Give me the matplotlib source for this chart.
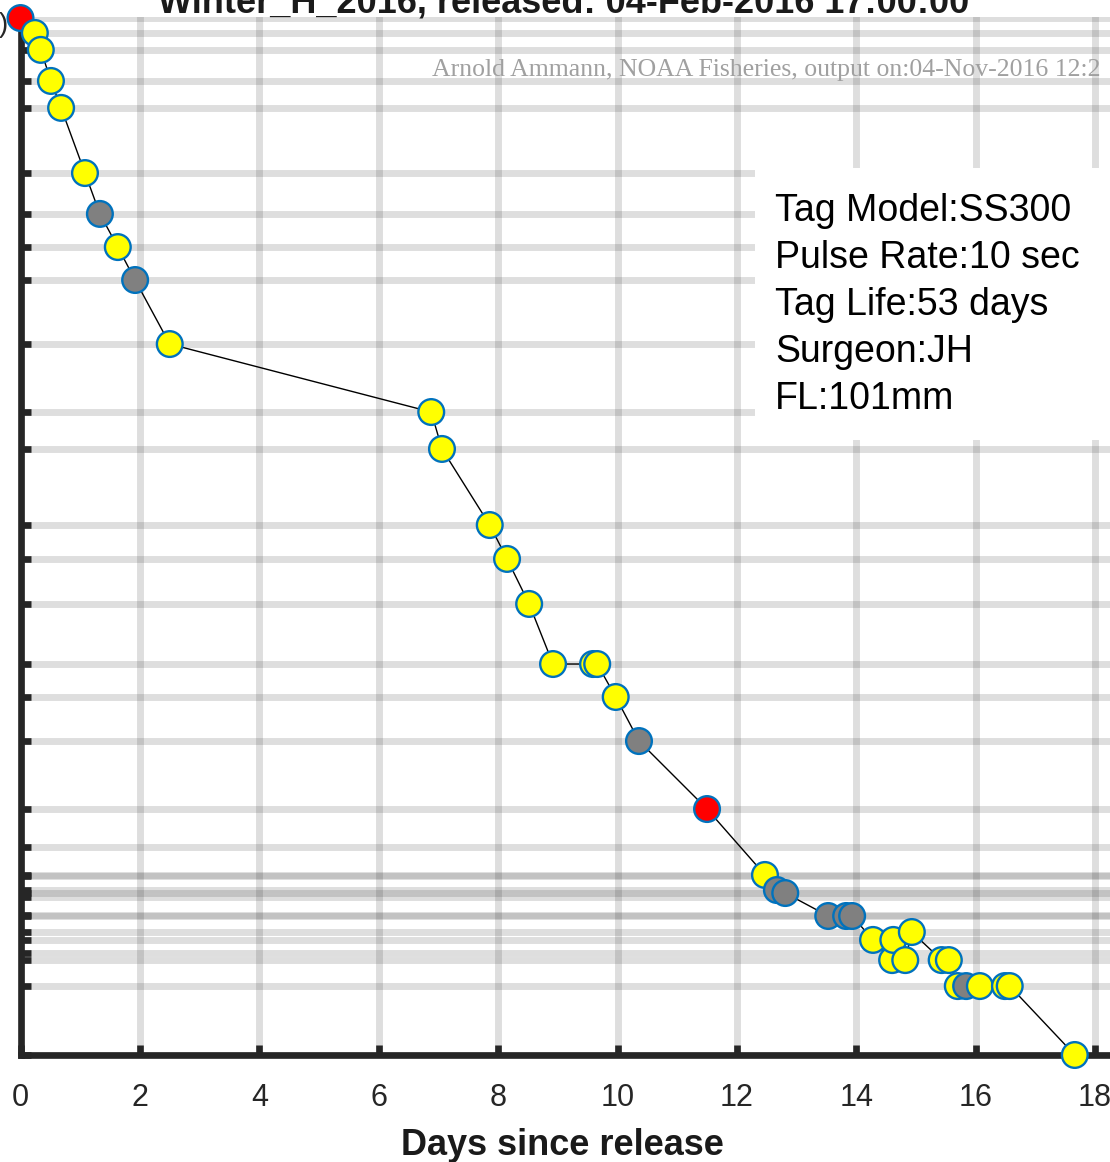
import matplotlib
matplotlib.use("Agg")
import matplotlib.pyplot as plt
from matplotlib.patches import Rectangle

plt.rcParams['font.family'] = ['Liberation Sans', 'DejaVu Sans']

# ---- data ----
# receiver station positions (river km)
station_rkm = [550.6, 542.7, 533.7, 517.2, 502.9, 468.3, 446.6, 429.0, 411.5,
               377.5, 341.4, 321.8, 281.4, 263.4, 239.5, 207.6, 190.1, 166.7,
               130.6, 110.4, 95.6, 95.0, 87.6, 86.0, 83.9, 74.3, 73.8, 65.3,
               61.1, 54.2, 50.4, 36.6, 0.0]

det_days = [0.00, 0.24, 0.34, 0.51, 0.68, 1.08, 1.33, 1.63, 1.92, 2.50,
            6.88, 7.06, 7.86, 8.15, 8.52, 8.92, 9.59, 9.66, 9.97, 10.36,
            11.50, 12.47, 12.67, 12.81, 13.53, 13.83, 13.93, 14.28, 14.60,
            14.62, 14.82, 14.93, 15.43, 15.55, 15.70, 15.84, 16.07, 16.49,
            16.57, 17.66]
det_rkm = [550.6, 542.7, 533.7, 517.2, 502.9, 468.3, 446.6, 429.0, 411.5, 377.5,
           341.4, 321.8, 281.4, 263.4, 239.5, 207.6, 207.6, 207.6, 190.1, 166.7,
           130.6, 95.6, 87.6, 86.0, 73.8, 73.8, 73.8, 61.1, 50.4,
           61.1, 50.4, 65.3, 50.4, 50.4, 36.6, 36.6, 36.6, 36.6,
           36.6, 0.0]
det_type = ['R', 'Y', 'Y', 'Y', 'Y', 'Y', 'G', 'Y', 'G', 'Y',
            'Y', 'Y', 'Y', 'Y', 'Y', 'Y', 'Y', 'Y', 'Y', 'G',
            'R', 'Y', 'G', 'G', 'G', 'G', 'G', 'Y', 'Y',
            'Y', 'Y', 'Y', 'Y', 'Y', 'Y', 'G', 'Y', 'Y',
            'Y', 'Y']

x_ticks = [0, 2, 4, 6, 8, 10, 12, 14, 16, 18]

title = "Winter_H_2016, released: 04-Feb-2016 17:00:00"
credit = "Arnold Ammann, NOAA Fisheries, output on:04-Nov-2016 12:2"
info_lines = ["Tag Model:SS300", "Pulse Rate:10 sec", "Tag Life:53 days",
              "Surgeon:JH", "FL:101mm"]
xlabel = "Days since release"

type_colors = {'Y': '#ffff00', 'G': '#808080', 'R': '#ff0000'}

# ---- figure ----
W, H = 1110, 1162
fig = plt.figure(figsize=(W / 100, H / 100), dpi=100)

x0_px, x_per_day = 20.5, 59.7
xmax = 18.4
top_px, bot_px = 17.3, 1055
ax = fig.add_axes([x0_px / W, (H - bot_px) / H,
                   xmax * x_per_day / W, (bot_px - top_px) / H])
ax.set_xlim(0, xmax)
ax.set_ylim(0, 551.0)

grid_kw = dict(color=(0.15, 0.15, 0.15), alpha=0.15, linewidth=5)
ax.set_xticks(x_ticks)
ax.set_yticks(station_rkm)
ax.set_yticklabels([])
ax.grid(True, **grid_kw)
ax.set_axisbelow(True)

for s in ['top', 'right']:
    ax.spines[s].set_visible(False)
for s in ['left', 'bottom']:
    ax.spines[s].set_linewidth(4.8)
    ax.spines[s].set_color('#262626')
ax.tick_params(direction='in', length=7.5, width=4.8, color='#262626')
ax.tick_params(axis='x', labelsize=22, labelcolor='#262626', pad=20)

ax.plot(det_days, det_rkm, color='black', lw=1.0, zorder=3, clip_on=False)
ax.scatter(det_days, det_rkm, s=18.5 ** 2,
           c=[type_colors[t] for t in det_type],
           edgecolors='#0072bd', linewidths=1.7, zorder=4, clip_on=False)

ax.set_xlabel(xlabel, fontsize=26, fontweight='bold', color='#1a1a1a')
ax.xaxis.label.set_va('baseline')
ax.xaxis.set_label_coords((562 - x0_px) / (xmax * x_per_day),
                          -(1155 - bot_px) / (bot_px - top_px))

# title (cropped at top)
fig.text(564 / W, 1 - 12 / H, title, ha='center', va='baseline',
         fontsize=26, fontweight='bold', color='#1a1a1a')

# credit line
fig.text(432 / W, 1 - 76 / H, credit, ha='left', va='baseline',
         fontsize=18.5, color='#a0a0a0', family=['Liberation Serif', 'DejaVu Serif'])

# partial tick label at top left
fig.text(8 / W, 1 - 25 / H, "(0)", ha='right', va='center', fontsize=20,
         color='#262626')

# info box
fig.patches.append(Rectangle((755 / W, 1 - 440 / H), (W - 755) / W + 0.02,
                             (440 - 168) / H, transform=fig.transFigure,
                             facecolor='white', edgecolor='none', zorder=5))
fig.text(775 / W, 1 - 193 / H, "\n".join(info_lines), ha='left', va='top',
         fontsize=27, linespacing=1.39, color='black', zorder=6)

fig.savefig("out.png", dpi=100)
